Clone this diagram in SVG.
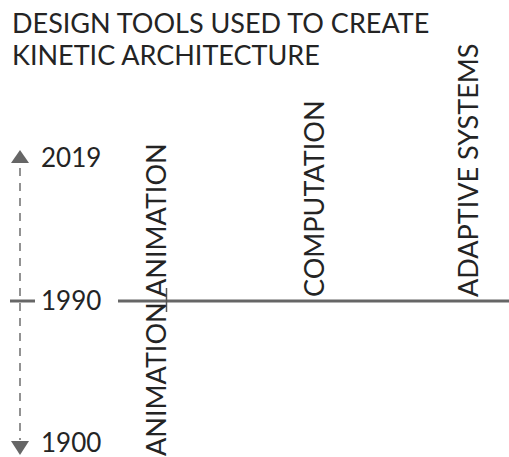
<svg xmlns="http://www.w3.org/2000/svg" width="509" height="457" viewBox="0 0 509 457">
<style>
text{font-family:Lato,"Noto Sans",sans-serif;fill:#242424;font-size:27px}
.yr{font-size:26px}
.axis{stroke:#666;stroke-width:3;fill:none}
.dash{stroke:#777;stroke-width:1.6;stroke-dasharray:8 7;fill:none}
.tri{fill:#666}
</style>
<rect width="509" height="457" fill="#fff"/>
<g id="title">
<text x="12" y="33">DESIGN TOOLS USED TO CREATE</text>
<text x="12" y="65">KINETIC ARCHITECTURE</text>
</g>
<g id="connectors">
<line class="dash" x1="20" y1="168" x2="20" y2="440"/>
<polygon class="tri" points="20,150 11,163 29,163"/>
<polygon class="tri" points="11,441 29,441 20,455"/>
<line class="axis" x1="10" y1="301" x2="35" y2="301"/>
<line class="axis" x1="118" y1="301" x2="509" y2="301"/>
<line x1="166.5" y1="288" x2="166.5" y2="312" stroke="#555" stroke-width="1.5"/>
</g>
<g id="years">
<text class="yr" x="41" y="167">2019</text>
<text class="yr" x="41" y="310">1990</text>
<text class="yr" x="41" y="452">1900</text>
</g>
<g id="animation-upper"><text transform="translate(166,297) rotate(-90)">ANIMATION</text></g>
<g id="animation-lower"><text transform="translate(166,456) rotate(-90)">ANIMATION</text></g>
<g id="computation"><text transform="translate(324,297) rotate(-90)">COMPUTATION</text></g>
<g id="adaptive-systems"><text transform="translate(478,297) rotate(-90)">ADAPTIVE SYSTEMS</text></g>
</svg>
